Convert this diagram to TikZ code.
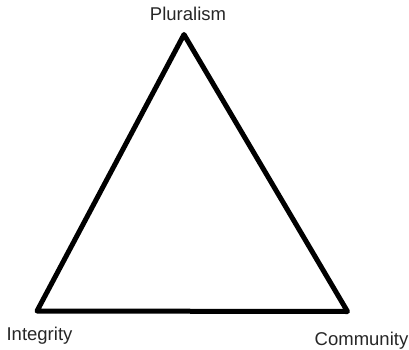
\documentclass[tikz,border=0pt]{standalone}
\usepackage{fontspec}
\setmainfont{Liberation Sans}
\usetikzlibrary{positioning}

\begin{document}
\begin{tikzpicture}[
    x=1pt, y=-1pt,
    edge/.style={draw, line width=5pt, line join=round},
    lbl/.style={font=\fontsize{18.5}{20}\selectfont, inner sep=0pt, anchor=base, text=black!85},
]
\useasboundingbox (0,0) rectangle (409,350);

% Corners of the triangle
\coordinate (plur) at (184,34.5);
\coordinate (integ) at (37,311);
\coordinate (comm) at (347.5,311.5);

% Triangle
\draw[edge] (plur) -- (integ) -- (comm) -- cycle;

% Labels
\node[lbl] (plurlbl) at (188,21) {Pluralism};
\node[lbl] (integlbl) at (39.5,340) {Integrity};
\node[lbl] (commlbl) at (361.5,345) {Community};

\end{tikzpicture}
\end{document}
